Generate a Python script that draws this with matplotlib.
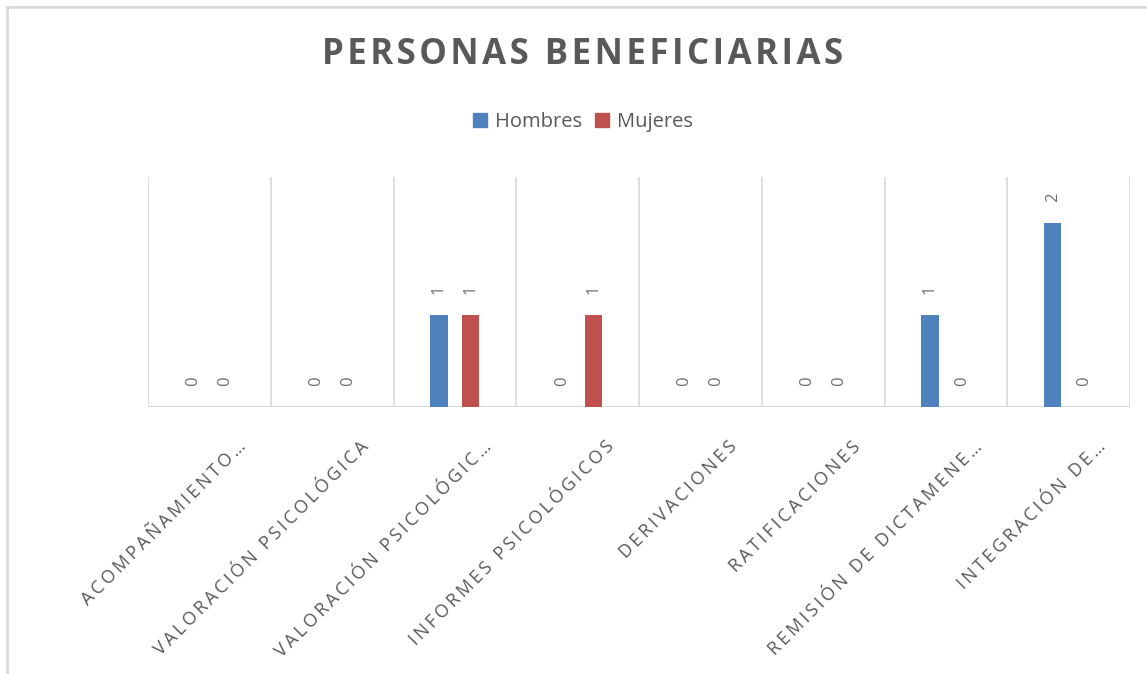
import matplotlib.pyplot as plt
import numpy as np
from matplotlib.patches import Patch
from matplotlib.lines import Line2D

# Data
categories = ['ACOMPAÑAMIENTO…', 'VALORACIÓN PSICOLÓGICA', 'VALORACIÓN PSICOLÓGIC…',
              'INFORMES PSICOLÓGICOS', 'DERIVACIONES', 'RATIFICACIONES',
              'REMISIÓN DE DICTAMENE…', 'INTEGRACIÓN DE…']
hombres = [0, 0, 1, 0, 0, 0, 1, 2]
mujeres = [0, 0, 1, 1, 0, 0, 0, 0]
series_names = ['Hombres', 'Mujeres']
colors = ['#4F81BD', '#C0504D']

title = 'PERSONAS BENEFICIARIAS'
text_color = '#595959'
grid_color = '#D9D9D9'

plt.rcParams['font.family'] = ['Open Sans', 'DejaVu Sans']


def spaced(s, sp='\u2009'):
    # Excel-style letter spacing
    return sp.join(s)


W, H = 1147, 674
fig = plt.figure(figsize=(W / 100, H / 100), dpi=100)
ax = fig.add_axes([148 / W, 1 - 407 / H, (1130 - 148) / W, (407 - 177) / H])

x = np.arange(len(categories))
bw = 0.14
off = 0.13
for vals, name, c, d in zip([hombres, mujeres], series_names, colors, [-1, 1]):
    bars = ax.bar(x + d * off, vals, width=bw, color=c, label=name, zorder=3)
    for b, v in zip(bars, vals):
        ax.annotate(str(v), (b.get_x() + b.get_width() / 2, v),
                    xytext=(0, 15), textcoords='offset points',
                    ha='center', va='bottom', rotation=90,
                    fontsize=12, color='#707070')

ax.set_xlim(-0.5, len(categories) - 0.5)
ax.set_ylim(0, 2.5)
for s in ax.spines.values():
    s.set_visible(False)
ax.axhline(0, color=grid_color, lw=1.5, zorder=2)
for b in np.arange(len(categories) + 1) - 0.5:
    ax.axvline(b, color=grid_color, lw=1.2, zorder=1)
ax.set_yticks([])
ax.set_xticks(x)
ax.set_xticklabels([])
ax.tick_params(axis='x', length=0)

# rotated category labels
for i, lab in enumerate(categories):
    ax.annotate(spaced(lab), (i, 0), xytext=(20, -22), textcoords='offset points',
                ha='right', va='top', rotation=45, rotation_mode='anchor',
                fontsize=13, color=text_color, annotation_clip=False)

fig.text(583 / W, 1 - 55 / H, spaced(title, '\u200A'), ha='center', va='center',
         fontsize=25, fontweight='bold', color=text_color)

handles = [Patch(color=c, label=n) for c, n in zip(colors, series_names)]
fig.legend(handles=handles, loc='center', bbox_to_anchor=(583 / W, 1 - 122 / H),
           ncol=2, frameon=False, fontsize=14.5, labelcolor=text_color,
           handlelength=0.7, handleheight=0.7, handletextpad=0.4,
           columnspacing=0.6)

# chart frame (only top and left edges are in view)
fig.add_artist(Line2D([7 / W, 1], [1 - 7 / H, 1 - 7 / H], transform=fig.transFigure,
                      color=grid_color, lw=2))
fig.add_artist(Line2D([7 / W, 7 / W], [0, 1 - 7 / H], transform=fig.transFigure,
                      color=grid_color, lw=2))

fig.savefig('out.png', dpi=100, facecolor='white')
